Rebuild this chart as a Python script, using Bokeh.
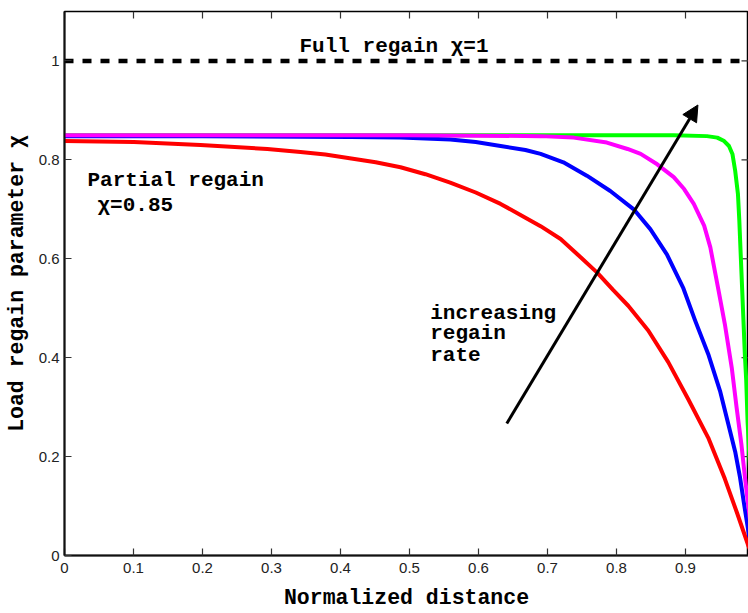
from bokeh.plotting import figure
from bokeh.models import LinearAxis, Label, Arrow, NormalHead, Range1d, FixedTicker
from bokeh.embed import file_html
from bokeh.resources import INLINE

# ---- data ----
red_x = [0.0, 0.1005, 0.197, 0.294, 0.342, 0.378, 0.451, 0.487, 0.523, 0.559, 0.596, 0.632, 0.668,
         0.690, 0.719, 0.748, 0.772, 0.795, 0.817, 0.846, 0.875, 0.904, 0.933, 0.957, 0.975, 0.991, 1.0]
red_y = [0.838, 0.836, 0.830, 0.822, 0.816, 0.811, 0.795, 0.785, 0.771, 0.754, 0.734, 0.711, 0.683,
         0.666, 0.640, 0.603, 0.572, 0.537, 0.505, 0.455, 0.391, 0.316, 0.238, 0.155, 0.085, 0.020, -0.01]

blue_x = [0.0, 0.2, 0.414, 0.487, 0.559, 0.596, 0.632, 0.668, 0.690, 0.723, 0.757, 0.791, 0.825,
          0.849, 0.873, 0.897, 0.914, 0.933, 0.950, 0.962, 0.972, 0.979, 0.985, 0.991, 1.0]
blue_y = [0.848, 0.848, 0.846, 0.845, 0.841, 0.836, 0.828, 0.820, 0.812, 0.795, 0.768, 0.737, 0.700,
          0.660, 0.609, 0.540, 0.475, 0.407, 0.333, 0.266, 0.210, 0.158, 0.103, 0.050, -0.03]

mag_x = [0.0, 0.5, 0.6, 0.690, 0.738, 0.786, 0.816, 0.835, 0.859, 0.883, 0.898, 0.912, 0.927, 0.936,
         0.948, 0.957, 0.967, 0.974, 0.981, 0.986, 0.991, 1.0]
mag_y = [0.850, 0.850, 0.849, 0.848, 0.845, 0.835, 0.822, 0.812, 0.791, 0.765, 0.741, 0.711, 0.667, 0.623,
         0.535, 0.468, 0.380, 0.300, 0.225, 0.160, 0.100, 0.0]

green_x = [0.0, 0.883, 0.931, 0.946, 0.956, 0.963, 0.968, 0.972, 0.976, 0.978, 0.980, 0.982, 0.984,
           0.986, 0.988, 0.990, 1.0]
green_y = [0.850, 0.850, 0.848, 0.845, 0.838, 0.828, 0.812, 0.778, 0.731, 0.677, 0.609, 0.542, 0.475,
           0.407, 0.354, 0.27, 0.0]

full_x = [0.0, 0.98]
full_y = [1.0, 1.0]

x_ticks = [0, 0.1, 0.2, 0.3, 0.4, 0.5, 0.6, 0.7, 0.8, 0.9]
y_ticks = [0, 0.2, 0.4, 0.6, 0.8, 1]

MONO = "Liberation Mono"
SANS = "Liberation Sans"

X0, X1 = 0.0, 0.9913
Y0, Y1 = 0.0, 1.1
W, H = 748, 613
BL, BR, BT, BB = 64, 0, 11, 58
FW, FH = W - BL - BR, H - BT - BB
TICK = 7

p = figure(width=W, height=H, output_backend="svg", toolbar_location=None,
           x_range=Range1d(X0, X1), y_range=Range1d(Y0, Y1),
           x_axis_location=None, y_axis_location=None,
           min_border_left=BL, min_border_right=BR, min_border_top=BT, min_border_bottom=BB)
p.grid.visible = False
p.outline_line_color = "black"
p.outline_line_width = 1.5
p.background_fill_color = "white"
p.border_fill_color = "white"

xb = LinearAxis(axis_label="Normalized distance", ticker=FixedTicker(ticks=x_ticks))
p.add_layout(xb, "below")
yl = LinearAxis(axis_label="Load regain parameter \u03c7", ticker=FixedTicker(ticks=y_ticks))
p.add_layout(yl, "left")

for ax in (xb, yl):
    ax.major_tick_in = TICK
    ax.major_tick_out = 0
    ax.minor_tick_in = 0
    ax.minor_tick_out = 0
    ax.major_tick_line_color = "#333333"
    ax.major_tick_line_width = 1.2
    ax.axis_line_color = "#111111"
    ax.axis_line_width = 2
    ax.major_label_text_font = SANS
    ax.major_label_text_font_size = "15px"
    ax.major_label_text_color = "#222222"
    ax.axis_label_text_font = MONO
    ax.axis_label_text_font_style = "bold"
    ax.axis_label_text_font_size = "21.5px"
    ax.axis_label_text_color = "black"

xb.major_label_standoff = 7
xb.axis_label_standoff = 10
yl.major_label_standoff = 5
yl.axis_label_standoff = 7

# inward ticks on the top and right frame edges
dy = TICK * (Y1 - Y0) / FH
dx = TICK * (X1 - X0) / FW
p.segment(x0=x_ticks, y0=[Y1] * len(x_ticks), x1=x_ticks, y1=[Y1 - dy] * len(x_ticks),
          line_color="#333333", line_width=1.2)
p.segment(x0=[X1] * len(y_ticks), y0=y_ticks, x1=[X1 - dx] * len(y_ticks), y1=y_ticks,
          line_color="#333333", line_width=1.2)

# dashed full-regain line
p.line(full_x, full_y, line_color="black", line_width=4.5, line_dash="9 9")

# curves (drawing order as in reference)
p.line(green_x, green_y, line_color="#00ff00", line_width=4, line_join="round")
p.line(blue_x, blue_y, line_color="#0000ff", line_width=4, line_join="round")
p.line(red_x, red_y, line_color="#ff0000", line_width=4, line_join="round")
p.line(mag_x, mag_y, line_color="#ff00ff", line_width=4, line_join="round")

# arrow
p.add_layout(Arrow(end=NormalHead(size=16, fill_color="black", line_color="black"),
                   x_start=0.641, y_start=0.267, x_end=0.918, y_end=0.911,
                   line_color="black", line_width=3))

def lab(txt, x, y):
    p.add_layout(Label(x=x, y=y, text=txt, text_font=MONO, text_font_style="bold",
                       text_font_size="21px", text_color="black",
                       text_baseline="alphabetic", text_align="left"))

lab("Full regain \u03c7=1", 0.3406, 1.030)
lab("Partial regain", 0.0333, 0.7576)
lab("\u03c7=0.85", 0.0478, 0.707)
lab("increasing", 0.530, 0.489)
lab("regain", 0.530, 0.448)
lab("rate", 0.530, 0.404)

open("out.html", "w").write(file_html(p, INLINE))
